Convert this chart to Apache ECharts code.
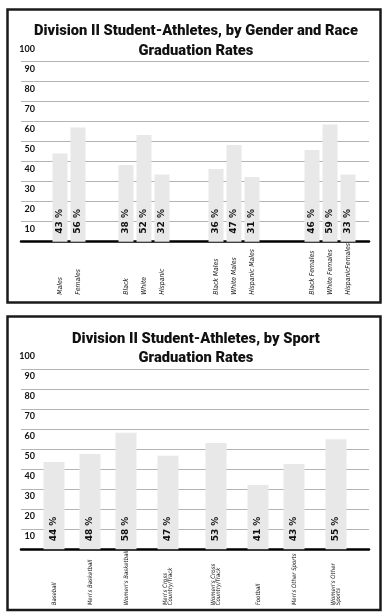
<!DOCTYPE html>
<html>
<head>
<meta charset="utf-8">
<script src="https://cdn.jsdelivr.net/npm/echarts@6/dist/echarts.min.js"></script>
<style>
html,body{margin:0;padding:0;background:#fff;}
#c{width:392px;height:615px;}
</style>
</head>
<body>
<div id="c"></div>
<script>
// ---- data ----
const topTitle = 'Division II Student-Athletes, by Gender and Race\nGraduation Rates';
const topCategories = ['Males','Females','Black','White','Hispanic','Black Males','White Males','Hispanic Males','Black Females','White Females','HispanicFemales'];
const topValues = [44.1, 57.1, 38.4, 53.4, 33.6, 36.4, 48.3, 32.4, 45.9, 58.6, 33.6];
const topLabels = ['43 %','56 %','38 %','52 %','32 %','36 %','47 %','31 %','46 %','59 %','33 %'];

const bottomTitle = 'Division II Student-Athletes, by Sport\nGraduation Rates';
const bottomCategories = ['Baseball', "Men's Basketball", "Women's Basketball", "Men's Cross\nCountry/Track", "Women's Cross\nCountry/Track", 'Football', "Men's Other Sports", "Women's Other\nSports"];
const bottomValues = [43.7, 47.7, 58.3, 46.8, 53.2, 32.2, 42.7, 55.0];
const bottomLabels = ['44 %','48 %','58 %','47 %','53 %','41 %','43 %','55 %'];

const yTickLabels = ['10','20','30','40','50','60','70','80','90','100'];

// ---- layout (category slot placement) ----
const SLOTS = 58;
const topSlots = [6, 9, 17, 20, 23, 32, 35, 38, 48, 51, 54];
const bottomSlots = [5, 11, 17, 24, 32, 39, 45, 52];

function expand(names, values, labels, slots) {
  const cats = new Array(SLOTS).fill('');
  const vals = new Array(SLOTS).fill(null);
  const labs = new Array(SLOTS).fill('');
  slots.forEach((s, i) => { cats[s] = names[i]; vals[s] = values[i]; labs[s] = labels[i]; });
  return {cats, vals, labs};
}
const T = expand(topCategories, topValues, topLabels, topSlots);
const B = expand(bottomCategories, bottomValues, bottomLabels, bottomSlots);

const chart = echarts.init(document.getElementById('c'), null, {renderer: 'canvas'});

function yAxis(gi) {
  return {
    type: 'value', gridIndex: gi, min: 0, max: 100, interval: 10,
    axisLine: {show: false}, axisTick: {show: false},
    splitLine: {show: true, showMaxLine: false, showMinLine: false, lineStyle: {color: '#b4b4b4', width: 1}},
    axisLabel: {
      inside: true, align: 'right', margin: 14, verticalAlign: 'top', lineHeight: 14,
      fontFamily: 'Lato, sans-serif', fontWeight: 'bold', fontSize: 9, color: '#111',
      showMinLabel: false,
      formatter: v => yTickLabels[Math.round(v / 10) - 1] || ''
    }
  };
}
function xAxis(gi, cats, fontSize, margin, lh, pad) {
  return {
    type: 'category', gridIndex: gi, data: cats,
    axisTick: {show: false},
    axisLine: {show: true, lineStyle: {color: '#000', width: 2.5}},
    axisLabel: {
      interval: 0, rotate: 90, align: 'left', margin: margin,
      overflow: 'none', width: 200, hideOverlap: false,
      fontFamily: "'Liberation Sans Narrow', 'DejaVu Sans Condensed', sans-serif",
      fontStyle: 'italic', fontSize: fontSize, lineHeight: lh, color: '#111',
      padding: [0, 0, pad, 0]
    }
  };
}
function barSeries(xi, vals, labs, width) {
  return {
    type: 'bar', xAxisIndex: xi, yAxisIndex: xi, data: vals, barWidth: width,
    itemStyle: {color: '#e8e8e8'},
    label: {
      show: true, position: 'insideBottom', rotate: 90, align: 'left', verticalAlign: 'middle',
      distance: 8, fontFamily: "'DejaVu Sans', sans-serif", fontWeight: 'bold', fontSize: 9, color: '#111',
      formatter: p => labs[p.dataIndex]
    },
    silent: true, animation: false
  };
}

const titleFont = {fontFamily: "Roboto, Lato, sans-serif", fontWeight: 900, fontSize: 14.7, color: '#111'};

chart.setOption({
  backgroundColor: '#fff',
  animation: false,
  title: [
    {text: topTitle, left: 'center', top: 16.5, textStyle: Object.assign({lineHeight: 20}, titleFont)},
    {text: bottomTitle, left: 'center', top: 324.5, textStyle: Object.assign({lineHeight: 19}, titleFont)}
  ],
  grid: [
    {left: 21, width: 348, top: 41.7, height: 200},
    {left: 21, width: 348, top: 349.3, height: 200}
  ],
  xAxis: [xAxis(0, T.cats, 6.8, 53, 9, 8), xAxis(1, B.cats, 6, 56, 4.5, 8)],
  yAxis: [yAxis(0), yAxis(1)],
  series: [barSeries(0, T.vals, T.labs, 15), barSeries(1, B.vals, B.labs, 21)],
  graphic: [
    {type: 'rect', shape: {x: 7.5, y: 9.5, width: 373, height: 293}, style: {fill: 'none', stroke: '#1a1a1a', lineWidth: 2.5}, z: 100},
    {type: 'rect', shape: {x: 7.5, y: 316.5, width: 373, height: 293.5}, style: {fill: 'none', stroke: '#1a1a1a', lineWidth: 2.5}, z: 100}
  ]
});
</script>
</body>
</html>
